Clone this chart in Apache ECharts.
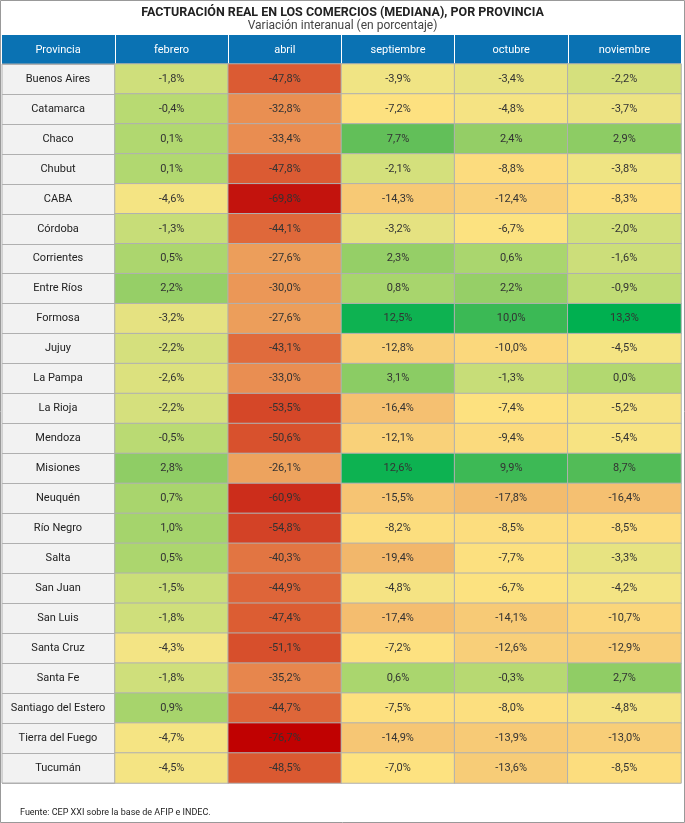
<!DOCTYPE html>
<html><head><meta charset="utf-8">
<script src="https://cdn.jsdelivr.net/npm/echarts@6/dist/echarts.min.js"></script>
<style>html,body{margin:0;padding:0;background:#fff}#c{width:685px;height:823px}</style>
</head><body><div id="c"></div>
<script>
const months = ['febrero','abril','septiembre','octubre','noviembre'];
const provinces = ['Buenos Aires','Catamarca','Chaco','Chubut','CABA','Córdoba','Corrientes','Entre Ríos','Formosa','Jujuy','La Pampa','La Rioja','Mendoza','Misiones','Neuquén','Río Negro','Salta','San Juan','San Luis','Santa Cruz','Santa Fe','Santiago del Estero','Tierra del Fuego','Tucumán'];
const febrero = [-1.8,-0.4,0.1,0.1,-4.6,-1.3,0.5,2.2,-3.2,-2.2,-2.6,-2.2,-0.5,2.8,0.7,1.0,0.5,-1.5,-1.8,-4.3,-1.8,0.9,-4.7,-4.5];
const abril = [-47.8,-32.8,-33.4,-47.8,-69.8,-44.1,-27.6,-30.0,-27.6,-43.1,-33.0,-53.5,-50.6,-26.1,-60.9,-54.8,-40.3,-44.9,-47.4,-51.1,-35.2,-44.7,-76.7,-48.5];
const septiembre = [-3.9,-7.2,7.7,-2.1,-14.3,-3.2,2.3,0.8,12.5,-12.8,3.1,-16.4,-12.1,12.6,-15.5,-8.2,-19.4,-4.8,-17.4,-7.2,0.6,-7.5,-14.9,-7.0];
const octubre = [-3.4,-4.8,2.4,-8.8,-12.4,-6.7,0.6,2.2,10.0,-10.0,-1.3,-7.4,-9.4,9.9,-17.8,-8.5,-7.7,-6.7,-14.1,-12.6,-0.3,-8.0,-13.9,-13.6];
const noviembre = [-2.2,-3.7,2.9,-3.8,-8.3,-2.0,-1.6,-0.9,13.3,-4.5,0.0,-5.2,-5.4,8.7,-16.4,-8.5,-3.3,-4.2,-10.7,-12.9,2.7,-4.8,-13.0,-8.5];
const cols = [febrero,abril,septiembre,octubre,noviembre];
const data = [];
cols.forEach((c,x)=>c.forEach((v,y)=>data.push([x,y,v])));
const stops = [[-77,[192,0,0]],[-68,[196,24,16]],[-60,[205,48,28]],[-47,[220,94,52]],[-33,[233,142,82]],[-27,[236,160,92]],[-17,[244,190,112]],[-13,[248,206,120]],[-7,[253,226,128]],[-4,[242,228,132]],[-2,[210,224,124]],[0,[178,216,112]],[3,[140,204,100]],[8,[95,190,88]],[13.3,[0,176,80]]];
function col(v){
  if(v<=stops[0][0]) return 'rgb('+stops[0][1]+')';
  for(let i=1;i<stops.length;i++){ if(v<=stops[i][0]){const a=stops[i-1],b=stops[i],t=(v-a[0])/(b[0]-a[0]);
    return 'rgb('+a[1].map((c,k)=>Math.round(c+(b[1][k]-c)*t)).join(',')+')';}}
  return 'rgb('+stops[stops.length-1][1]+')';
}
const fmt = v => v.toFixed(1).replace('.',',')+'%';
const chart = echarts.init(document.getElementById('c'));
chart.setOption({
  animation:false,
  title:{text:'FACTURACIÓN REAL EN LOS COMERCIOS (MEDIANA), POR PROVINCIA',subtext:'Variación interanual (en porcentaje)',left:'center',top:1,itemGap:1,
    textStyle:{fontFamily:'Roboto',fontSize:12.5,fontWeight:'bold',color:'#222'},subtextStyle:{fontFamily:'Roboto',fontSize:12,color:'#444'}},
  graphic:[
    {type:'rect',shape:{x:0.5,y:0.5,width:684,height:822},style:{fill:'none',stroke:'#999',lineWidth:1},z:-1},
    {type:'rect',shape:{x:2,y:35,width:679,height:29},style:{fill:'#0a72b3'},z:-1},
    {type:'rect',shape:{x:2,y:64,width:113,height:719},style:{fill:'#f2f2f2',stroke:'#b0b0b0'},z:-1},
    {type:'text',x:58,y:50,style:{text:'Provincia',fill:'#fff',font:'11px Roboto',align:'center',verticalAlign:'middle'}},
    {type:'text',x:20,y:813,style:{text:'Fuente: CEP XXI sobre la base de AFIP e INDEC.',fill:'#222',font:'9px Roboto',verticalAlign:'middle'}}
  ],
  grid:{left:115,right:4,top:64,bottom:40},
  xAxis:{type:'category',data:months,position:'top',axisLine:{show:false},
    axisTick:{show:true,length:29,lineStyle:{color:'#fff'}},
    axisLabel:{color:'#fff',fontFamily:'Roboto',fontSize:11,margin:8},splitLine:{show:false}},
  yAxis:{type:'category',data:provinces,inverse:true,axisLine:{show:false},
    axisTick:{show:true,length:113,lineStyle:{color:'#b0b0b0'}},
    axisLabel:{align:'center',margin:57,color:'#222',fontFamily:'Roboto',fontSize:11}},
  series:[{type:'heatmap',data:data,
    itemStyle:{borderColor:'#b0b0b0',borderWidth:1,color:p=>col(p.value[2])},
    label:{show:true,formatter:p=>fmt(p.value[2]),color:'#333',fontFamily:'Roboto',fontSize:11}}]
});
</script></body></html>
